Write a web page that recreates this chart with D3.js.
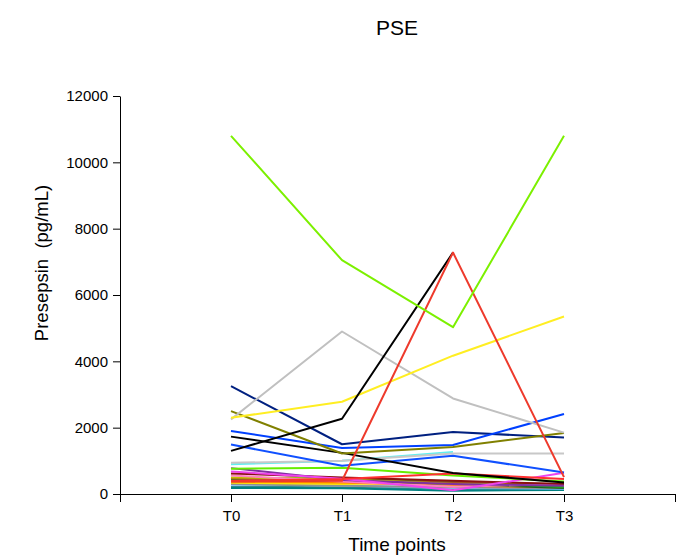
<!DOCTYPE html>
<html>
<head>
<meta charset="utf-8">
<script src="https://cdn.jsdelivr.net/npm/d3@7"></script>
<style>
  html, body { margin: 0; padding: 0; background: #fff; }
  svg { display: block; }
  text { font-family: "Liberation Sans", Arial, Helvetica, sans-serif; fill: #000; }
</style>
</head>
<body>
<svg id="chart" width="688" height="557"></svg>
<script>
// ---- data ----
const timePoints = ["T0", "T1", "T2", "T3"];
const yTicks = [0, 2000, 4000, 6000, 8000, 10000, 12000];
const title = "PSE";
const xTitle = "Time points";
const yTitle = "Presepsin  (pg/mL)";

// one patient per entry: values at T0..T3 (pg/mL)
const seriesNames = [
  "P1","P2","P3","P4","P5","P6","P7","P8","P9","P10",
  "P11","P12","P13","P14","P15","P16","P17","P18","P19","P20",
  "P21","P22","P23","P24","P25","P26","P27","P28"
];
const seriesColors = [
  "#2e8b8b","#008080","#80c0ff","#909090","#ffe000","#ff8000","#206020","#20a020",
  "#a05020","#c0c000","#ff80c0","#8b1010","#8030a0","#ee44ee","#66ee00","#ff3030",
  "#60f0f0","#c8c8c8","#1050ff","#000000","#002080","#0040ff","#808000","#c0c0c0",
  "#ffee22","#000000","#ee3a2c","#7cf000"
];
const seriesValues = [
  [220, 200, 150, 150],
  [180, 170, 100, 120],
  [280, 260, 180, 160],
  [300, 250, 200, 180],
  [340, 300, 350, 250],
  [370, 350, 250, 200],
  [420, 400, 300, 180],
  [460, 480, 380, 200],
  [480, 420, 350, 300],
  [500, 450, 300, 280],
  [560, 380, 220, 300],
  [620, 500, 400, 300],
  [780, 420, 300, 250],
  [680, 460, 110, 640],
  [760, 790, 560, 380],
  [400, 450, 620, 450],
  [895, 1000, 1270, null],
  [940, 1005, 1220, 1220],
  [1490, 850, 1150, 650],
  [1730, 1240, 630, 350],
  [3250, 1500, 1870, 1700],
  [1900, 1390, 1480, 2410],
  [2500, 1220, 1420, 1840],
  [2250, 4900, 2880, 1850],
  [2300, 2780, 4170, 5350],
  [1300, 2270, 7280, null],
  [380, 400, 7280, 510],
  [10800, 7050, 5030, 10800]
];

// ---- drawing ----
const svg = d3.select("#chart");
const x = d3.scaleLinear().domain([0, timePoints.length + 1]).range([120, 675]);
const y = d3.scaleLinear().domain([0, 12000]).range([494, 96]);

// lines
const line = d3.line()
  .defined(d => d.v != null)
  .x(d => x(d.i + 1))
  .y(d => y(d.v));

const series = seriesNames.map((n, k) => ({
  name: n, color: seriesColors[k],
  pts: seriesValues[k].map((v, i) => ({ i, v }))
}));

svg.append("g").selectAll("path").data(series).join("path")
  .attr("fill", "none")
  .attr("stroke", d => d.color)
  .attr("stroke-width", 2)
  .attr("stroke-linejoin", "round")
  .attr("d", d => line(d.pts));

// y axis
const yAxis = d3.axisLeft(y).tickValues(yTicks).tickSize(7).tickSizeOuter(0).tickPadding(5)
  .tickFormat(d3.format("d"));
const gy = svg.append("g").attr("transform", "translate(120,0)").call(yAxis);
gy.attr("font-size", 15).attr("font-family", "Liberation Sans, Arial, sans-serif");
gy.selectAll("line, path").attr("stroke", "#000");

// x axis
const xAxis = d3.axisBottom(x).tickValues(d3.range(0, timePoints.length + 2))
  .tickSize(8).tickSizeOuter(0).tickPadding(8)
  .tickFormat(d => (d >= 1 && d <= timePoints.length) ? timePoints[d - 1] : "");
const gx = svg.append("g").attr("transform", "translate(0,494)").call(xAxis);
gx.attr("font-size", 15).attr("font-family", "Liberation Sans, Arial, sans-serif");
gx.selectAll("line, path").attr("stroke", "#000");

// titles
svg.append("text").attr("x", 397).attr("y", 35).attr("text-anchor", "middle")
  .style("font-size", "21px").text(title);
svg.append("text").attr("x", 397).attr("y", 551).attr("text-anchor", "middle")
  .style("font-size", "19px").text(xTitle);
svg.append("text").attr("transform", "translate(48,263) rotate(-90)")
  .attr("text-anchor", "middle").style("font-size", "18.5px")
  .style("white-space", "pre").attr("xml:space", "preserve").text(yTitle);
</script>
</body>
</html>
